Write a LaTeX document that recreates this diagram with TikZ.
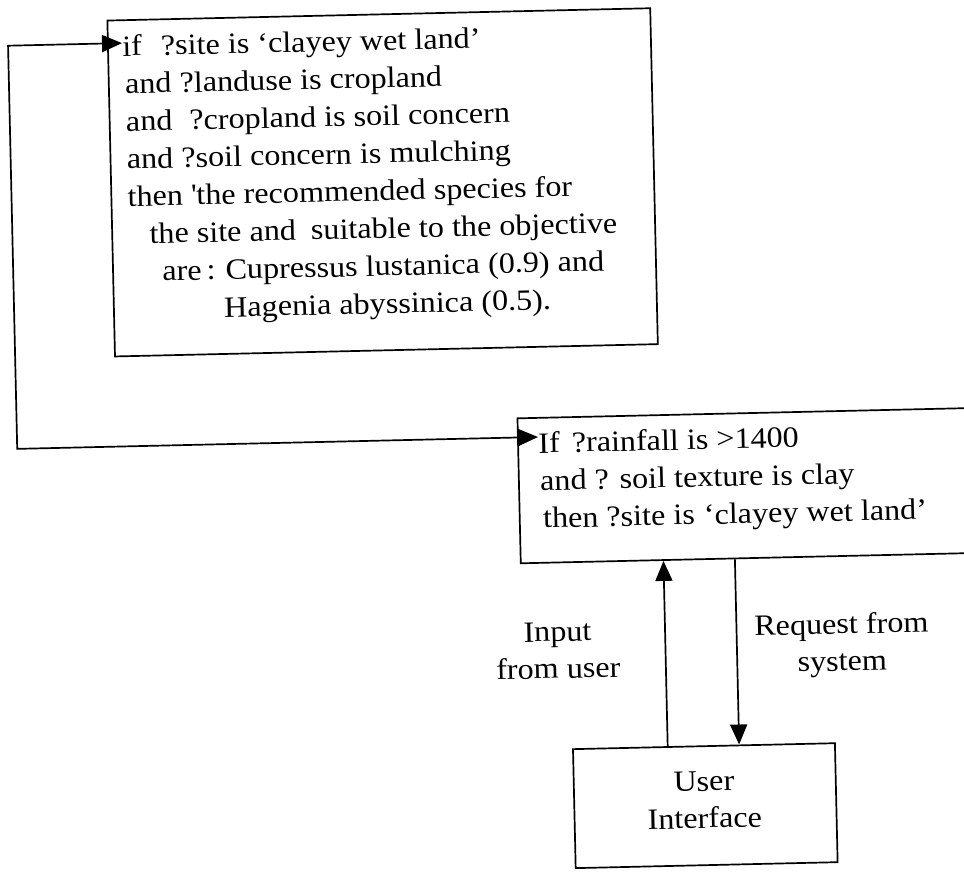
\documentclass[tikz,border=0pt]{standalone}
\usepackage{fontspec}
\setmainfont{Liberation Serif}[FakeStretch=1.09]
\usetikzlibrary{arrows.meta,calc}
\begin{document}
\begin{tikzpicture}[x=1pt,y=1pt,
  box/.style={draw, line width=1.7pt, inner sep=0pt, anchor=south west},
  ln/.style={inner sep=0pt, anchor=base west, font=\fontsize{29.5}{36}\selectfont},
  lbl/.style={inner sep=0pt, anchor=base, font=\fontsize{29.5}{36}\selectfont},
  flow/.style={line width=1.7pt},
  >={Triangle[length=20pt,width=17pt]}]
  \useasboundingbox (0,0) rectangle (964,871);
  \clip (0,0) rectangle (964,871);
  \begin{scope}[rotate around={1.3:(482,436)}, transform shape]
    % rule for the recommended species
    \node[box, minimum width=543pt, minimum height=336pt] (rulea) at (116,522) {};
    \node[ln] (a1) at (131,823)   {if\hspace{19pt}?site is ‘clayey wet land’};
    \node[ln] (a2) at (133,785.4) {and ?landuse is cropland};
    \node[ln] (a3) at (133,747.8) {and\hspace{17pt}?cropland is soil concern};
    \node[ln] (a4) at (133,710.2) {and ?soil concern is mulching};
    \node[ln] (a5) at (133,672.6) {then \textquotesingle the recommended species for};
    \node[ln] (a6) at (154,635)   {the site and\hspace{15pt}suitable to the objective};
    \node[ln] (a7) at (166,597.4) {are\hspace{5pt}:\hspace{10pt}Cupressus lustanica (0.9) and};
    \node[ln] (a8) at (227,559.8) {Hagenia abyssinica (0.5).};

    % rule for the site
    \node[box, minimum width=500pt, minimum height=145pt] (ruleb) at (517,306) {};
    \node[ln] (b1) at (538,416.7) {If\hspace{12pt}?rainfall is >1400};
    \node[ln] (b2) at (539,379.2) {and ? soil texture is clay};
    \node[ln] (b3) at (541,341.7) {then ?site is\hspace{9pt}‘clayey wet land’};

    % user interface
    \node[box, minimum width=262pt, minimum height=119pt] (ui) at (565,0) {};
    \node[lbl] (u1) at (696,75) {User};
    \node[lbl] (u2) at (696,38) {Interface};

    % labels of the two vertical connectors
    \node[lbl] (in1) at (553,228) {Input};
    \node[lbl] (in2) at (553,191) {from user};
    \node[lbl] (rq1) at (837,229) {Request from};
    \node[lbl] (rq2) at (837,192) {system};

    % vertical connectors between the interface and the site rule
    \coordinate (upfoot) at ($(ui.north west)!0.3626!(ui.north east)$);
    \coordinate (uphead) at ($(ruleb.south west)!(upfoot)!(ruleb.south east)$);
    \coordinate (dnfoot) at ($(ui.north west)!0.6336!(ui.north east)$);
    \coordinate (dnhead) at ($(ruleb.south west)!(dnfoot)!(ruleb.south east)$);
    \draw[flow,->] (upfoot) -- (uphead);
    \draw[flow,->] (dnhead) -- (dnfoot);

    % feedback line from the site rule to the species rule
    \coordinate (tipA) at ([yshift=13pt]a1.base west);
    \coordinate (tipB) at ([yshift=16pt]b1.base west);
    \coordinate (railtop) at (17,871);
    \coordinate (railbot) at (17,0);
    \coordinate (bendA) at ($(railbot)!(tipA)!(railtop)$);
    \coordinate (bendB) at ($(railbot)!(tipB)!(railtop)$);
    \draw[flow,<->] (tipB) -- (bendB) -- (bendA) -- (tipA);
  \end{scope}
\end{tikzpicture}
\end{document}
